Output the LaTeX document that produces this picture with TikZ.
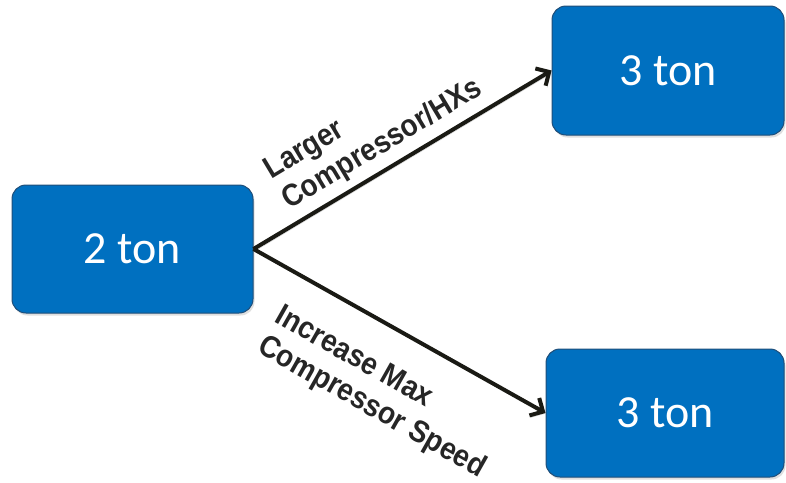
\documentclass[tikz,border=0pt]{standalone}
\usepackage{fontspec}
\setmainfont{Carlito}
\newfontfamily\labfont[FakeStretch=0.9]{Liberation Sans}
\usetikzlibrary{arrows.meta,shadows}
\definecolor{boxblue}{HTML}{0070C0}
\definecolor{boxedge}{HTML}{1F4E79}
\definecolor{arrowcol}{HTML}{1A1A14}
\definecolor{labcol}{HTML}{262626}
\tikzset{
  tonbox/.style={draw=boxedge, line width=1pt, fill=boxblue, rounded corners=14pt,
    drop shadow={shadow xshift=1.5pt, shadow yshift=-2.5pt, opacity=0.25},
    text=white, inner sep=0pt, font=\fontsize{46}{50}\selectfont},
  branch/.style={draw=arrowcol, line width=4pt, -{Straight Barb[length=10pt,width=20pt,line width=4pt]},
    preaction={draw=black, opacity=0.18, transform canvas={xshift=1.5pt,yshift=-2pt}}},
  lab/.style={text=labcol, align=left, inner sep=0pt, font=\labfont\bfseries\fontsize{31}{35}\selectfont}
}
\begin{document}
\begin{tikzpicture}[x=1pt,y=-1pt]
\useasboundingbox (0,0) rectangle (786,482);
\node[tonbox, minimum width=241pt, minimum height=128pt] (a) at (132.5,249) {2 ton};
\node[tonbox, minimum width=232pt, minimum height=129pt] (b) at (668,70.5) {3 ton};
\node[tonbox, minimum width=238pt, minimum height=128pt] (c) at (665,413) {3 ton};
\draw[branch] (a.east) -- (b.west);
\draw[branch] (a.east) -- (c.west);
\node[lab, rotate=30.9] (l1) at (374,130) {Larger\\Compressor/HXs};
\node[lab, rotate=-29.5] (l2) at (380,393) {Increase Max\\Compressor Speed};
\end{tikzpicture}
\end{document}
